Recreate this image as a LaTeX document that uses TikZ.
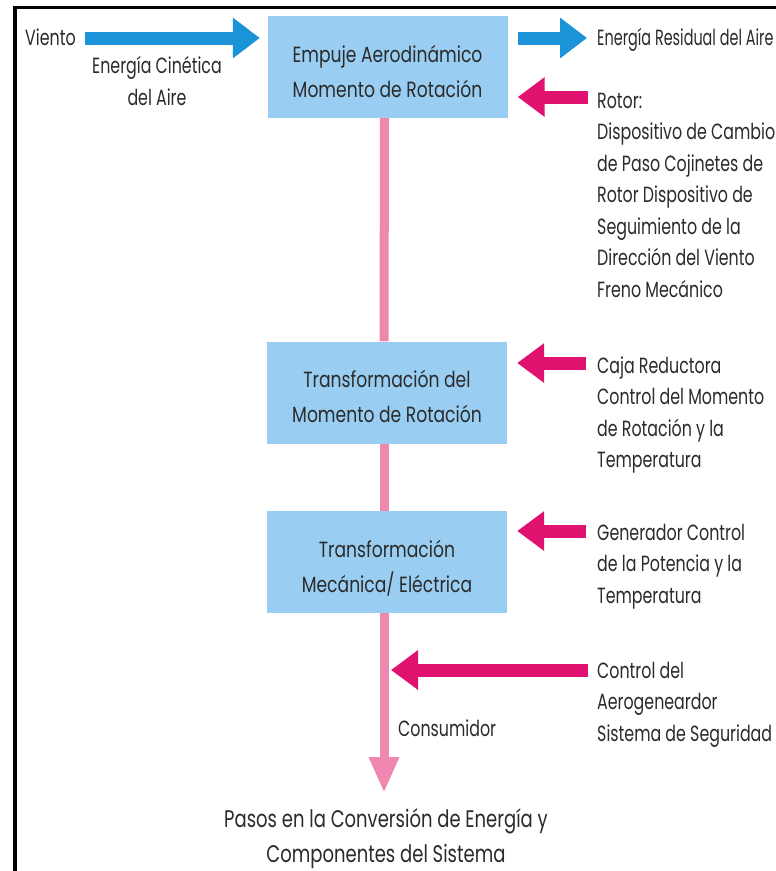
\documentclass[tikz,border=0pt]{standalone}
\usepackage{fontspec}
\setmainfont[FakeStretch=0.72]{Poppins}
\newfontfamily\boxfont[FakeStretch=0.78]{Poppins}
\newfontfamily\capfont[FakeStretch=0.75]{Poppins}
\newfontfamily\narrowfont[FakeStretch=0.655]{Poppins}
\usetikzlibrary{arrows.meta}
\definecolor{boxblue}{HTML}{99CEF2}
\definecolor{arrblue}{HTML}{1A93D9}
\definecolor{magc}{HTML}{E0126F}
\definecolor{pinkl}{HTML}{EF88B0}
\definecolor{txtc}{HTML}{2B2B2B}
\newcommand\firstln{\rule{0pt}{18pt}}
\newcommand\boxtopln{\rule{0pt}{29pt}}
\newcommand\boxbotln{\rule[-4pt]{0pt}{4pt}}
\begin{document}
\begin{tikzpicture}[x=1pt,y=-1pt,
  stepbox/.style={fill=boxblue, minimum width=240pt, minimum height=102pt,
    align=center, text=txtc, inner sep=0pt, font=\boxfont\fontsize{22}{35}\selectfont},
  lbl/.style={text=txtc, inner sep=0pt, font=\fontsize{22}{31.5}\selectfont},
  sidetext/.style={lbl, anchor=north west, align=left},
  bluearrow/.style={draw=arrblue, line width=13pt, -{Triangle[width=39pt,length=27pt]}},
  magarrow/.style={draw=magc, line width=13pt, -{Triangle[width=38pt,length=27pt]}},
  pinkline/.style={draw=pinkl, line width=9pt},
  pinkarrow/.style={pinkline, -{Triangle[width=28pt,length=36pt]}},
  framestyle/.style={draw=black, line width=3.5pt}
]
\useasboundingbox (0,0) rectangle (776,871);
\fill[white] (0,0) rectangle (776,871);
\draw[framestyle] (15,871) -- (15,7.5) -- (776,7.5);

% boxes
\node[stepbox] (b1) at (387.5,67) {\boxtopln Empuje Aerodinámico\\Momento de Rotación\boxbotln};
\node[stepbox] (b2) at (387,392.5) {\boxtopln Transformación del\\Momento de Rotación\boxbotln};
\node[stepbox] (b3) at (387,562) {\boxtopln Transformación\\Mecánica/ Eléctrica\boxbotln};

% pink line
\coordinate (pend) at (384,793);
\draw[pinkline] ([xshift=-3pt]b1.south) -- ([xshift=-3pt]b2.north);
\draw[pinkline] ([xshift=-3pt]b2.south) -- ([xshift=-3pt]b3.north);
\draw[pinkarrow] ([xshift=-3pt]b3.south) -- (pend);

% left input
\node[lbl, anchor=base west] (viento) at (25,45) {Viento};
\node[lbl, anchor=base, align=center] (cin) at (157,105) {Energía Cinética\\del Aire};
\coordinate (w0) at (85,38);
\draw[bluearrow] (w0) -- ([xshift=-7.5pt]b1.west |- w0);

% right output
\node[lbl, anchor=base west, font=\narrowfont\fontsize{22}{31.5}\selectfont] (resid) at (597,45) {Energía Residual del Aire};
\coordinate (r0) at (518,38);
\draw[bluearrow] (r0) -- (587,38);

% side texts
\node[sidetext] (rotor) at (597,90) {\firstln Rotor:\\Dispositivo de Cambio\\de Paso Cojinetes de\\Rotor Dispositivo de\\Seguimiento de la\\Dirección del Viento\\Freno Mecánico};
\node[sidetext] (caja) at (597,355) {\firstln Caja Reductora\\Control del Momento\\de Rotación y la\\Temperatura};
\node[sidetext] (gen) at (597,522) {\firstln Generador Control\\de la Potencia y la\\Temperatura};
\node[sidetext] (ctrl) at (597,660) {\firstln Control del\\Aerogeneardor\\Sistema de Seguridad};

% magenta arrows
\coordinate (m1) at (588,97);
\coordinate (m2) at (586,363);
\coordinate (m3) at (586,531);
\coordinate (m4) at (588,670);
\draw[magarrow] (m1) -- ([xshift=10pt]b1.east |- m1);
\draw[magarrow] (m2) -- ([xshift=10pt]b2.east |- m2);
\draw[magarrow] (m3) -- ([xshift=10pt]b3.east |- m3);
\draw[magarrow] (m4) -- (391,670);

% bottom labels
\node[lbl, anchor=base west] (cons) at (398,736) {Consumidor};
\node[lbl, anchor=base, align=center, font=\capfont\fontsize{24}{35}\selectfont] (cap) at (386,862) {Pasos en la Conversión de Energía y\\Componentes del Sistema};
\end{tikzpicture}
\end{document}
